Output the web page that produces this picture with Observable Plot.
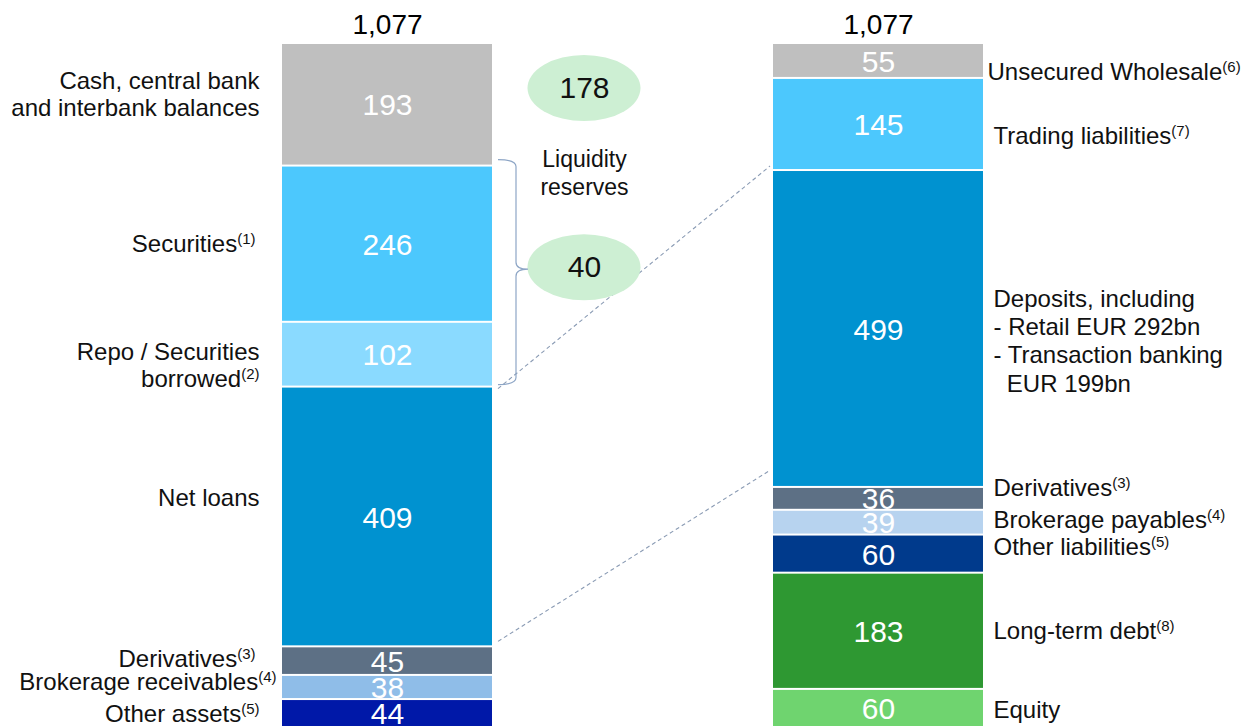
<!DOCTYPE html>
<html>
<head>
<meta charset="utf-8">
<script src="https://cdn.jsdelivr.net/npm/d3@7"></script>
<script src="https://cdn.jsdelivr.net/npm/@observablehq/plot@0.6"></script>
<style>
  html, body { margin: 0; padding: 0; background: #fff; }
  #chart svg { display: block; font-family: "Liberation Sans", Arial, sans-serif; }
</style>
</head>
<body>
<div id="chart"></div>
<script>
// ---- data ----
const sides = ["Assets", "Liabilities"];
const totals = [1077, 1077];

const assetLabels = [
  "Cash, central bank\nand interbank balances",
  "Securities(1)",
  "Repo / Securities\nborrowed(2)",
  "Net loans",
  "Derivatives(3)",
  "Brokerage receivables(4)",
  "Other assets(5)"
];
const assetValues = [193, 246, 102, 409, 45, 38, 44];

const liabilityLabels = [
  "Unsecured Wholesale(6)",
  "Trading liabilities(7)",
  "Deposits, including\n- Retail EUR 292bn\n- Transaction banking\n\u00a0\u00a0EUR 199bn",
  "Derivatives(3)",
  "Brokerage payables(4)",
  "Other liabilities(5)",
  "Long-term debt(8)",
  "Equity"
];
const liabilityValues = [55, 145, 499, 36, 39, 60, 183, 60];

const reserveValues = [178, 40];
const reserveLabel = "Liquidity\nreserves";

// ---- styles (kept apart from data) ----
const assetColors = ["#bfbfbf", "#4cc8fd", "#8adaff", "#0092d0", "#5d7085", "#8fbde8", "#0018a8"];
const liabilityColors = ["#bfbfbf", "#4cc8fd", "#0092d0", "#5d7085", "#b7d3ef", "#003a8c", "#2e9832", "#6fd46f"];
const assetLabelDy = [-11, -1, 10, -20, -3, -6, 0];
const assetLabelDx = [0, -4, 0, 0, -4, 17, 0];
const liabLabelDy = [10, 10, 11, -12, -4, -8, -1, 0];
const liabLabelDx = [-6, 0, 0, 0, 0, 0, 0, 0];

// ---- build segment table ----
function segments(side, labels, values, colors, ldy, ldx) {
  const ends = d3.cumsum(values);
  return values.map((v, i) => ({
    side, label: labels[i], value: v, color: colors[i],
    y1: ends[i] - v, y2: ends[i], mid: ends[i] - v / 2,
    ldy: ldy[i], ldx: ldx[i]
  }));
}
const segs = [
  ...segments("Assets", assetLabels, assetValues, assetColors, assetLabelDy, assetLabelDx),
  ...segments("Liabilities", liabilityLabels, liabilityValues, liabilityColors, liabLabelDy, liabLabelDx)
];
const assetSegs = segs.filter(d => d.side === "Assets");
const liabSegs = segs.filter(d => d.side === "Liabilities");
const totalRows = sides.map((s, i) => ({side: s, total: totals[i]}));

const ns = "http://www.w3.org/2000/svg";

// custom annotation mark: brace, ellipses, dashed connectors
function annotations(index, scales) {
  const x = scales.x, y = scales.y;
  const bw = typeof x.bandwidth === "function" ? x.bandwidth() : 210;
  const leftRight = x("Assets") + bw;
  const rightLeft = x("Liabilities");
  const g = d3.create("svg:g");

  // dashed connectors: net loans -> deposits
  const netTop = assetSegs[3].y1, netBot = assetSegs[3].y2;
  const depTop = liabSegs[2].y1, depBot = liabSegs[2].y2;
  const conns = [
    [leftRight + 6, y(netTop) + 2, rightLeft - 3, y(depTop) - 4],
    [leftRight + 6, y(netBot) - 5, rightLeft - 4, y(depBot) - 16]
  ];
  for (const [a, b, c, d] of conns) {
    g.append("line").attr("x1", a).attr("y1", b).attr("x2", c).attr("y2", d)
      .attr("stroke", "#8a9bb4").attr("stroke-width", 1.1).attr("stroke-dasharray", "4,3");
  }

  // ellipses
  const cx = leftRight + 92;
  const ellY = [y(71), y(353)];
  ellY.forEach(cy => {
    g.append("ellipse").attr("cx", cx).attr("cy", cy).attr("rx", 56.5).attr("ry", 33)
      .attr("fill", "#cdefd3");
  });

  // brace from top of securities to bottom of repo
  const x0 = leftRight + 6, x1 = leftRight + 24, x2 = leftRight + 36;
  const yt = y(assetSegs[1].y1) - 6, yb = y(assetSegs[2].y2) - 2, ym = ellY[1] + 2;
  const r = 7;
  const p = `M${x0},${yt} Q${x1},${yt} ${x1},${yt + r} L${x1},${ym - r} Q${x1},${ym} ${x2},${ym}` +
            ` Q${x1},${ym} ${x1},${ym + r} L${x1},${yb - r} Q${x1},${yb} ${x0},${yb}`;
  g.append("path").attr("d", p).attr("fill", "none").attr("stroke", "#8ea6c6").attr("stroke-width", 1.2);
  return g.node();
}

const reserveRows = reserveValues.map((v, i) => ({side: "Assets", v, yy: [71, 353][i]}));

const chart = Plot.plot({
  width: 1243,
  height: 727,
  marginLeft: 0, marginRight: 0, marginTop: 0, marginBottom: 0,
  style: {fontFamily: "Liberation Sans, Arial, sans-serif", background: "#fff"},
  x: {domain: sides, range: [281, 983], paddingInner: 0.573, paddingOuter: 0, axis: null},
  y: {domain: [0, 1077], range: [43, 727], axis: null},
  marks: [
    Plot.barY(segs, {x: "side", y1: "y1", y2: "y2", fill: "color", insetTop: 1, insetBottom: 1}),
    annotations,
    // values inside segments
    Plot.text(segs, {x: "side", y: "mid", text: d => String(d.value), fill: "white", fontSize: 30, dy: 1}),
    // totals
    Plot.text(totalRows, {x: "side", y: 0, text: d => d3.format(",")(d.total), fill: "black", fontSize: 28, dy: -18}),
    // left labels
    Plot.text(assetSegs, {x: "side", y: "mid", text: "label", textAnchor: "end", fontSize: 24, lineHeight: 1.15,
      fill: "#111", dx: -128}),
    // right labels
    Plot.text(liabSegs, {x: "side", y: "mid", text: "label", textAnchor: "start", fontSize: 24, lineHeight: 1.18,
      fill: "#111", dx: 115}),
    // reserve numbers
    Plot.text(reserveRows, {x: "side", y: "yy", text: d => String(d.v), fontSize: 30, fill: "#111", dx: 197}),
    Plot.text([{side: "Assets"}], {x: "side", y: () => 202, text: () => reserveLabel, fontSize: 23, lineHeight: 1.25, fill: "#111", dx: 197})
  ]
});

// apply per-label pixel nudges to side labels
const textGroups = chart.querySelectorAll("g[aria-label='text']");
function nudge(group, rows) {
  if (!group) return;
  group.querySelectorAll(":scope > text").forEach((t, i) => {
    const r = rows[i];
    const tr = t.getAttribute("transform") || "";
    t.setAttribute("transform", `${tr} translate(${r.ldx},${r.ldy})`);
  });
}
nudge(textGroups[2], assetSegs);
nudge(textGroups[3], liabSegs);

// superscript footnote markers
(function superscripts(root) {
  const walker = document.createTreeWalker(root, NodeFilter.SHOW_TEXT);
  const nodes = [];
  while (walker.nextNode()) nodes.push(walker.currentNode);
  for (const n of nodes) {
    const m = n.nodeValue.match(/^(.*?)(\(\d\))$/);
    if (!m) continue;
    n.nodeValue = m[1];
    const sup = document.createElementNS(ns, "tspan");
    sup.setAttribute("font-size", "15");
    sup.setAttribute("dy", "-8");
    sup.textContent = m[2];
    n.parentNode.insertBefore(sup, n.nextSibling);
  }
})(chart);

document.getElementById("chart").appendChild(chart);
</script>
</body>
</html>
